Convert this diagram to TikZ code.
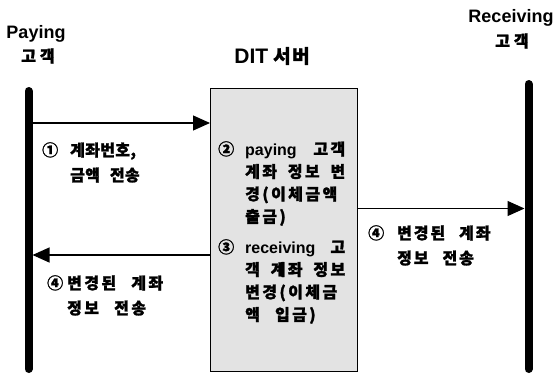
\documentclass[tikz,border=0pt]{standalone}
\usepackage{fontspec}
\setmainfont{Noto Sans CJK KR}
\newfontfamily\lat{Liberation Sans}
\newfontfamily\krs{Noto Sans CJK KR}[WordSpace=2.5,BoldFeatures={FakeBold=1.5}]
\newfontfamily\krt{Noto Sans CJK KR}[LetterSpace=25,BoldFeatures={FakeBold=1.5}]
\newfontfamily\krd{Noto Sans CJK KR}[LetterSpace=8,BoldFeatures={FakeBold=1.5}]
\usetikzlibrary{arrows.meta}
\begin{document}
\begin{tikzpicture}[x=1pt,y=-1pt,
  life/.style={line width=8pt,line cap=round},
  msg/.style={line width=1.2pt,-{Triangle[length=17pt,width=15pt]}},
  title/.style={font=\fontsize{18}{20}\selectfont\lat\bfseries,inner sep=0},
  ktitle/.style={font=\fontsize{16}{18}\selectfont\krt\bfseries,inner sep=0},
  lbl/.style={font=\fontsize{16}{25}\selectfont\krs\bfseries,anchor=base west,inner sep=0},
  boxtxt/.style={font=\fontsize{16}{22.5}\selectfont\krs\bfseries\addfontfeature{LetterSpace=15},anchor=base west,inner sep=0},
]
\path[use as bounding box] (0,0) rectangle (553,375);

% titles
\node[title] (payT) at (36,34) {Paying};
\node[ktitle] (payK) at (38,56) {고객};
\node[title] (recT) at (511,18) {Receiving};
\node[ktitle] (recK) at (512,41) {고객};
\node[font=\fontsize{19}{21}\selectfont\krd\bfseries,inner sep=0] (ditT) at (272,56) {{\fontsize{21}{22}\selectfont\lat DIT}\hspace{5pt}서버};

% server box
\node[draw,fill=black!11,line width=0.8pt,minimum width=147pt,minimum height=283pt,anchor=north west,inner sep=0] (srv) at (210,88) {};

% lifelines
\coordinate (Lt) at (28.5,91);
\coordinate (Lb) at (28.5,369);
\coordinate (Rt) at (528.5,84);
\coordinate (Rb) at (528.5,369);
\draw[life] (Lt) -- (Lb);
\draw[life] (Rt) -- (Rb);

% messages
\coordinate (m1) at (32.5,123);
\draw[msg] (m1) -- (m1 -| srv.west);
\coordinate (m2) at (524.5,208.5);
\draw[msg] (m2 -| srv.east) -- (m2);
\coordinate (m3) at (32.5,255);
\draw[msg] (m3 -| srv.west) -- (m3);

% labels
\node[lbl] (l1) at (42,156) {\addfontfeature{LetterSpace=2}\begin{tabular}[t]{@{}l@{}l@{}}\makebox[28pt][l]{①} & 계좌번호,\\ & 금액 전송\end{tabular}};
\node[lbl] (l2) at (368,239) {\addfontfeature{LetterSpace=12}\begin{tabular}[t]{@{}l@{}l@{}}\makebox[29pt][l]{④} & 변경된 계좌\\ & 정보 전송\end{tabular}};
\node[lbl] (l3) at (47,289) {\addfontfeature{LetterSpace=15}\begin{tabular}[t]{@{}l@{}l@{}}\makebox[20pt][l]{④} & 변경된 계좌\\ & 정보 전송\end{tabular}};

% box text
\node[boxtxt] (g2) at (218,155) {\begin{tabular}[t]{@{}l@{}l@{}}\makebox[27pt][l]{②} & \makebox[100pt][s]{{\lat paying} 고객}\\
 & \makebox[100pt][s]{계좌 정보 변}\\
 & 경(이체금액\\
 & 출금)\end{tabular}};
\node[boxtxt] (g3) at (218,253) {\begin{tabular}[t]{@{}l@{}l@{}}\makebox[27pt][l]{③} & \makebox[100pt][s]{{\lat receiving} 고}\\
 & \makebox[100pt][s]{객 계좌 정보}\\
 & 변경(이체금\\
 & 액 입금)\end{tabular}};
\end{tikzpicture}
\end{document}
